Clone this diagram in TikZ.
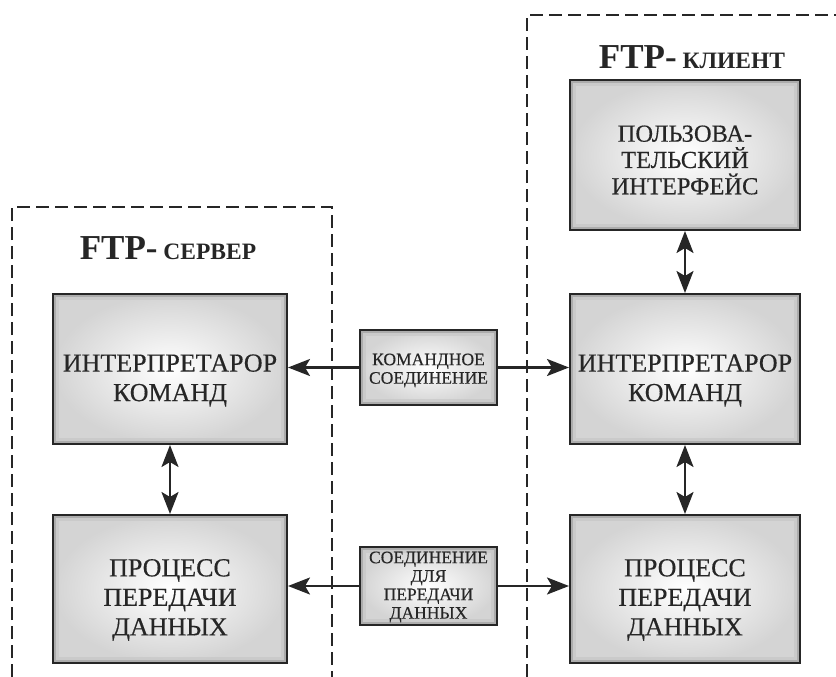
\documentclass[tikz,border=0pt]{standalone}
\usepackage{fontspec}
\setmainfont{Liberation Serif}
\newfontfamily\boxfont[FakeBold=0.4]{Liberation Serif}
\usetikzlibrary{arrows.meta}
\definecolor{ink}{HTML}{262626}
\tikzset{
  block/.style={draw=ink, line width=2pt, rectangle, inner color=white, outer color=black!17, inner sep=0pt,
    path picture={
      \draw[black!25, line width=12pt, opacity=0.45]
        (path picture bounding box.south west) rectangle (path picture bounding box.north east);
      \draw[black!40, line width=6pt, opacity=0.6]
        (path picture bounding box.south west) rectangle (path picture bounding box.north east);
    }},
  bigtext/.style={align=center, text=ink, inner sep=0pt, font=\boxfont\fontsize{26}{29.5}\selectfont},
  uitext/.style={bigtext, font=\boxfont\fontsize{24.5}{26.3}\selectfont},
  smalltext/.style={align=center, text=ink, inner sep=0pt, font=\boxfont\fontsize{17.5}{18.5}\selectfont},
  frame/.style={draw=ink, line width=2.3pt, dash pattern=on 13pt off 6pt},
  arrowtip/.tip={Stealth[length=22pt,width=17pt,inset=5pt]},
  conn/.style={draw=ink, line width=2.5pt, -arrowtip},
  dconn/.style={draw=ink, line width=2.5pt, arrowtip-arrowtip},
  title/.style={text=ink, font=\bfseries\fontsize{35}{35}\selectfont}
}
\begin{document}
\begin{tikzpicture}[x=1pt,y=-1pt]
\useasboundingbox (0,0) rectangle (836,677);
% dashed frames of server and client
\draw[frame] (12,677) -- (12,207) -- (332,207) -- (332,677);
\draw[frame] (527,677) -- (527,15) -- (840,15);
% titles
\node[title, anchor=base] (srvT) at (168,259) {FTP-{\fontsize{23.5}{23.5}\selectfont\ СЕРВЕР}};
\node[title, anchor=base] (cliT) at (692,69) {FTP-{\fontsize{23.5}{23.5}\selectfont\ КЛИЕНТ}};
% server blocks
\node[block, minimum width=234pt, minimum height=150pt,
  label={[bigtext, yshift=-11.5pt]center:ИНТЕРПРЕТАРОР\\КОМАНД}] (sPI) at (170,369) {};
\node[block, minimum width=234pt, minimum height=148pt,
  label={[bigtext, yshift=-11pt]center:ПРОЦЕСС\\ПЕРЕДАЧИ\\ДАННЫХ}] (sDTP) at (170,589) {};
% client blocks
\node[block, minimum width=230pt, minimum height=150pt,
  label={[uitext, yshift=-5pt]center:ПОЛЬЗОВА-\\ТЕЛЬСКИЙ\\ИНТЕРФЕЙС}] (cUI) at (685,155) {};
\node[block, minimum width=230pt, minimum height=150pt,
  label={[bigtext, yshift=-11.5pt]center:ИНТЕРПРЕТАРОР\\КОМАНД}] (cPI) at (685,369) {};
\node[block, minimum width=230pt, minimum height=148pt,
  label={[bigtext, yshift=-11pt]center:ПРОЦЕСС\\ПЕРЕДАЧИ\\ДАННЫХ}] (cDTP) at (685,589) {};
% connection blocks
\node[block, minimum width=137pt, minimum height=75pt,
  label={[smalltext, yshift=-3pt]center:КОМАНДНОЕ\\СОЕДИНЕНИЕ}] (cmd) at (428.5,367.5) {};
\node[block, minimum width=137pt, minimum height=78pt,
  label={[smalltext, yshift=-1pt]center:СОЕДИНЕНИЕ\\ДЛЯ\\ПЕРЕДАЧИ\\ДАННЫХ}] (data) at (428.5,586) {};
% connectors
\draw[conn] (cmd.west) -- (sPI.east |- cmd.west);
\draw[conn] (cmd.east) -- (cPI.west |- cmd.east);
\draw[conn] (data.west) -- (sDTP.east |- data.west);
\draw[conn] (data.east) -- (cDTP.west |- data.east);
\draw[dconn] (sPI.south) -- (sDTP.north);
\draw[dconn] (cUI.south) -- (cPI.north);
\draw[dconn] (cPI.south) -- (cDTP.north);
\end{tikzpicture}
\end{document}
